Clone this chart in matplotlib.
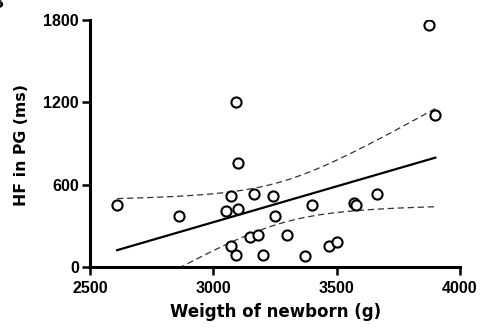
import numpy as np
import matplotlib
matplotlib.use("Agg")
import matplotlib.pyplot as plt

weight = [2610, 2860, 3090, 3100, 3070, 3165, 3240, 3050, 3100, 3400, 3250,
          3150, 3180, 3300, 3070, 3090, 3200, 3370, 3570, 3580, 3665, 3470,
          3500, 3875, 3900]
hf = [450, 370, 1205, 760, 520, 530, 520, 410, 420, 450, 370,
      220, 230, 235, 155, 85, 90, 80, 465, 455, 530, 150,
      180, 1760, 1105]

xticks = [2500, 3000, 3500, 4000]
yticks = [0, 600, 1200, 1800]
xlabel = "Weigth of newborn (g)"
ylabel = "HF in PG (ms)"
panel = "B"
t_crit = 2.069  # df = 23, 95 %

plt.rcParams['font.family'] = ['Liberation Sans', 'DejaVu Sans']
plt.rcParams['font.weight'] = 'bold'

fig = plt.figure(figsize=(4.8, 3.29), dpi=100)
ax = fig.add_axes([90/480, 1-267/329, 370/480, 247/329])

x = np.array(weight, float)
y = np.array(hf, float)
n = len(x)
b, a = np.polyfit(x, y, 1)
xs = np.linspace(x.min(), x.max(), 200)
yfit = a + b*xs
res = y - (a + b*x)
s = np.sqrt(np.sum(res**2)/(n-2))
sxx = np.sum((x - x.mean())**2)
half = t_crit*s*np.sqrt(1/n + (xs - x.mean())**2/sxx)

ax.plot(xs, yfit, color='black', lw=1.6, zorder=2)
ax.plot(xs, yfit+half, color='#333333', lw=0.9, ls=(0, (5, 3)), zorder=2)
ax.plot(xs, yfit-half, color='#333333', lw=0.9, ls=(0, (5, 3)), zorder=2)
ax.plot(x, y, 'o', mfc='white', mec='black', ms=7.3, mew=1.5, ls='none', zorder=3)

ax.set_xlim(2500, 4000)
ax.set_ylim(0, 1800)
ax.set_xticks(xticks)
ax.set_yticks(yticks)
for sp in ['top', 'right']:
    ax.spines[sp].set_visible(False)
for sp in ['left', 'bottom']:
    ax.spines[sp].set_linewidth(2.2)
ax.tick_params(direction='out', length=6, width=1.8, labelsize=11.5, pad=2)
ax.tick_params(axis='x', pad=4)
for lab in ax.get_xticklabels() + ax.get_yticklabels():
    lab.set_fontweight('bold')

fig.text(275.5/480, 1-317/329, xlabel, fontsize=12, fontweight='bold',
         family='DejaVu Sans', ha='center', va='baseline')
fig.text(26.5/480, 1-144.5/329, ylabel, fontsize=11.3, fontweight='bold',
         family='DejaVu Sans', ha='center', va='baseline', rotation=90,
         rotation_mode='anchor')
fig.text(4/480, 1-8/329, panel, fontsize=14, fontweight='bold',
         ha='right', va='baseline')

fig.savefig('out.png', dpi=100)
